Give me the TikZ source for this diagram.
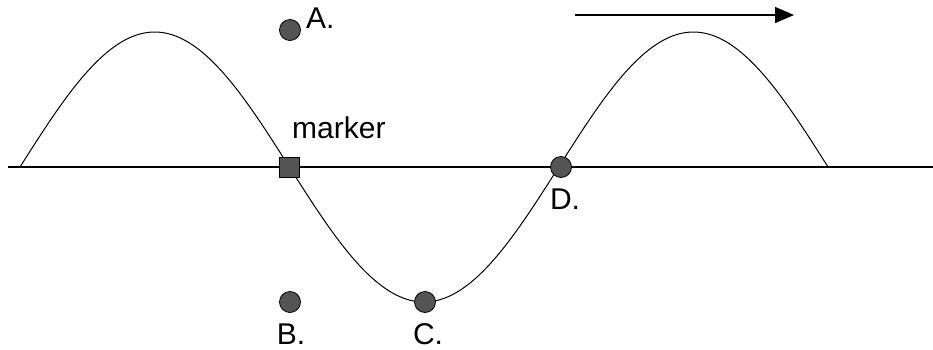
\documentclass[tikz,border=0pt]{standalone}
\usepackage{fontspec}
\setmainfont{Liberation Sans}
\usetikzlibrary{positioning,arrows.meta}

\tikzset{
  dot/.style={circle, draw=black, line width=0.8pt, fill=black!67, minimum size=21pt, inner sep=0pt},
  marksq/.style={rectangle, draw=black, line width=0.8pt, fill=black!67, minimum size=20pt, inner sep=0pt},
  lbl/.style={font=\fontsize{30}{34}\selectfont, inner sep=0pt}
}

\begin{document}
\begin{tikzpicture}[x=1pt, y=-1pt]
        \useasboundingbox (0,0) rectangle (933,349);
        % axis and wave
        \draw[line width=1.3pt] (8,167) -- (933,167);
        \draw[line width=1pt] plot[domain=20:828, samples=240, smooth] (\x, {167-135*sin((\x-20)/538.7*360)});
        % direction
        \coordinate (s) at (575,15);
        \coordinate (e) at (794,15);
        \draw[line width=1.3pt, -{Triangle[length=19pt, width=16pt]}] (s) -- (e);
        % points
        \node[marksq] (m) at (289,167) {};
        \node[dot] (a) at (290,30) {};
        \node[dot] (b) at (290,302) {};
        \node[dot] (c) at (425,302) {};
        \node[dot] (d) at (561,167) {};
        \node[lbl, anchor=base west] at (306,28) {A.};
        \node[lbl, anchor=base west] at (292,138) {marker};
        \node[lbl, anchor=base] at (291,344) {B.};
        \node[lbl, anchor=base] at (428,344) {C.};
        \node[lbl, anchor=base] at (565,209) {D.};
\end{tikzpicture}
\end{document}
